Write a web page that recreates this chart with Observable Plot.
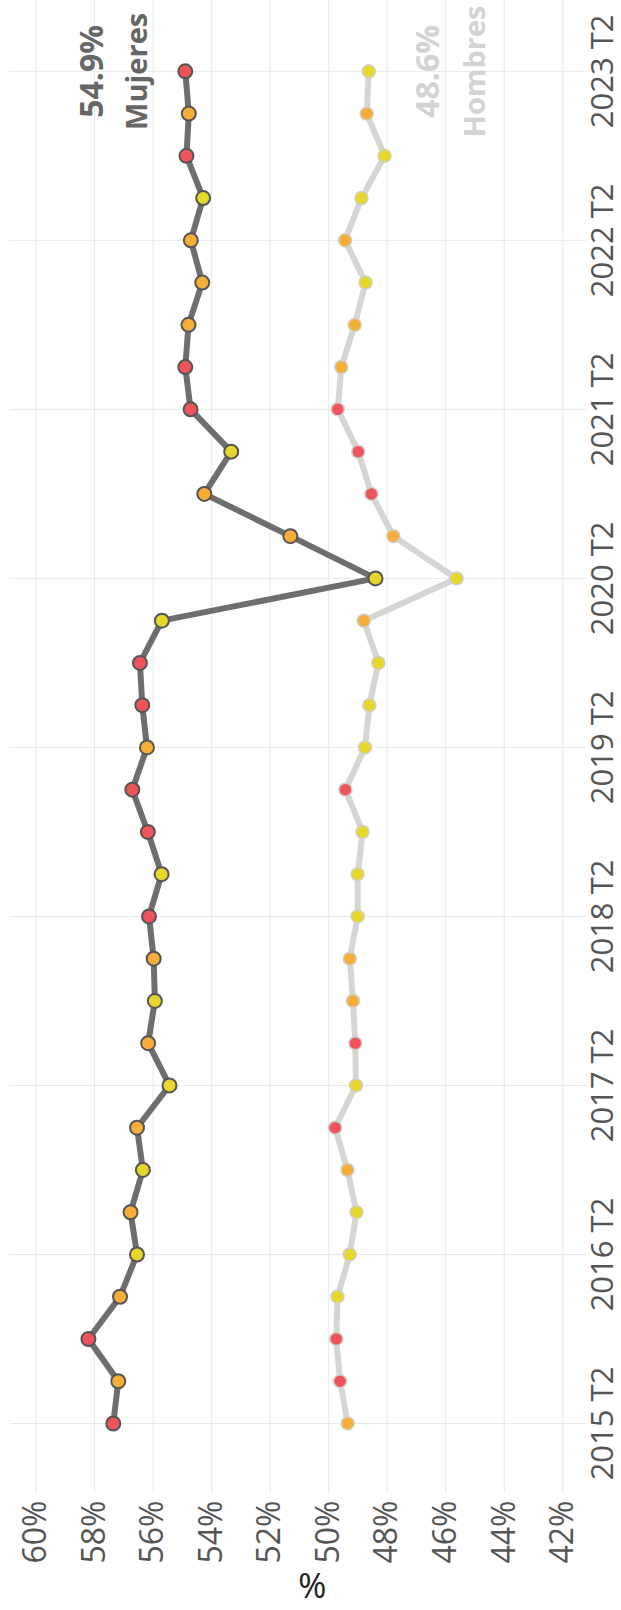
<!DOCTYPE html>
<html>
<head>
<meta charset="utf-8">
<script src="https://cdn.jsdelivr.net/npm/d3@7"></script>
<script src="https://cdn.jsdelivr.net/npm/@observablehq/plot@0.6"></script>
<style>
  html, body { margin: 0; padding: 0; background: #fff; }
  #wrap { position: relative; width: 621px; height: 1610px; overflow: hidden; background: #fff; }
</style>
</head>
<body>
<div id="wrap"></div>
<script>
const periodos = [
  "2015 T2","2015 T3","2015 T4",
  "2016 T1","2016 T2","2016 T3","2016 T4",
  "2017 T1","2017 T2","2017 T3","2017 T4",
  "2018 T1","2018 T2","2018 T3","2018 T4",
  "2019 T1","2019 T2","2019 T3","2019 T4",
  "2020 T1","2020 T2","2020 T3","2020 T4",
  "2021 T1","2021 T2","2021 T3","2021 T4",
  "2022 T1","2022 T2","2022 T3","2022 T4",
  "2023 T1","2023 T2"
];
const mujeres = [
  57.36, 57.19, 58.21,
  57.13, 56.55, 56.77, 56.35,
  56.55, 55.44, 56.17, 55.94,
  55.98, 56.14, 55.71, 56.18,
  56.71, 56.21, 56.37, 56.45,
  55.70, 48.40, 51.31, 54.25,
  53.33, 54.72, 54.90, 54.79,
  54.32, 54.71, 54.29, 54.86,
  54.78, 54.90
];
const hombres = [
  49.35, 49.61, 49.74,
  49.70, 49.28, 49.05, 49.36,
  49.78, 49.07, 49.09, 49.17,
  49.28, 49.01, 49.01, 48.84,
  49.43, 48.76, 48.61, 48.30,
  48.80, 45.63, 47.79, 48.54,
  48.99, 49.69, 49.57, 49.11,
  48.74, 49.44, 48.88, 48.09,
  48.70, 48.63
];
const coloresMujeres = [
  "rojo","naranja","rojo",
  "naranja","amarillo","naranja","amarillo",
  "naranja","amarillo","naranja","amarillo",
  "naranja","rojo","amarillo","rojo",
  "rojo","naranja","rojo","rojo",
  "amarillo","amarillo","naranja","naranja",
  "amarillo","rojo","rojo","naranja",
  "naranja","naranja","amarillo","rojo",
  "naranja","rojo"
];
const coloresHombres = [
  "naranja","rojo","rojo",
  "amarillo","amarillo","amarillo","naranja",
  "rojo","amarillo","rojo","naranja",
  "naranja","amarillo","amarillo","amarillo",
  "rojo","amarillo","amarillo","amarillo",
  "naranja","amarillo","naranja","rojo",
  "rojo","rojo","naranja","naranja",
  "amarillo","naranja","amarillo","amarillo",
  "naranja","amarillo"
];
const categorias = ["rojo","naranja","amarillo"];
const coloresCategorias = ["#ee545a","#f6ae38","#e6d72a"];
const ticksPeriodo = ["2015 T2","2016 T2","2017 T2","2018 T2","2019 T2","2020 T2","2021 T2","2022 T2","2023 T2"];
const ticksPct = [42,44,46,48,50,52,54,56,58,60];
const series = ["Mujeres","Hombres"];

const rowsM = periodos.map((p, i) => ({i, p, v: mujeres[i], c: coloresMujeres[i]}));
const rowsH = periodos.map((p, i) => ({i, p, v: hombres[i], c: coloresHombres[i]}));
const tickIdx = ticksPeriodo.map(t => periodos.indexOf(t));
const lastM = rowsM[rowsM.length - 1];
const lastH = rowsH[rowsH.length - 1];

const font = "'Open Sans', 'Noto Sans', sans-serif";

const svg = Plot.plot({
  width: 1610,
  height: 621,
  marginLeft: 117,
  marginRight: 0,
  marginTop: 9.5,
  marginBottom: 35,
  style: {fontFamily: font, background: "#fff"},
  x: {type: "linear", domain: [-1.633, 33.70], axis: null},
  y: {domain: [41.19, 60.89], axis: null},
  color: {domain: categorias, range: coloresCategorias},
  marks: [
    Plot.ruleX(tickIdx, {stroke: "#e9e9e9", strokeWidth: 1}),
    Plot.ruleY(ticksPct, {stroke: "#e9e9e9", strokeWidth: 1}),
    Plot.axisX({ticks: tickIdx, tickFormat: i => periodos[i], tickSize: 0, tickPadding: 4, fontSize: 31, fill: "#555", label: null}),
    Plot.axisY({ticks: ticksPct, tickFormat: d => d + "%", tickSize: 0, tickPadding: 8, fontSize: 32, fill: "#555", label: null}),
    Plot.text(["%"], {frameAnchor: "left", dx: -95, rotate: 90, fontSize: 34, fill: "#222"}),
    Plot.line(rowsH, {x: "i", y: "v", stroke: "#d6d6d1", strokeWidth: 6}),
    Plot.dot(rowsH, {x: "i", y: "v", r: 6.5, fill: "c", stroke: "#cfcfcf", strokeWidth: 1.5}),
    Plot.line(rowsM, {x: "i", y: "v", stroke: "#6e6e6e", strokeWidth: 6}),
    Plot.dot(rowsM, {x: "i", y: "v", r: 7, fill: "c", stroke: "#555", strokeWidth: 2}),
    Plot.text([lastM], {x: "i", y: "v", text: d => d.v.toFixed(1) + "%", dy: -93, fontSize: 32, fontWeight: "bold", fill: "#666"}),
    Plot.text([lastM], {x: "i", y: "v", text: () => series[0], dy: -48, fontSize: 29, fontWeight: "bold", fill: "#666"}),
    Plot.text([lastH], {x: "i", y: "v", text: d => d.v.toFixed(1) + "%", dy: 60, fontSize: 32, fontWeight: "bold", fill: "#d3d3d3"}),
    Plot.text([lastH], {x: "i", y: "v", text: () => series[1], dy: 107, fontSize: 29, fontWeight: "bold", fill: "#d3d3d3"})
  ]
});

svg.style.position = "absolute";
svg.style.left = "0px";
svg.style.top = "0px";
svg.style.maxWidth = "none";
svg.style.width = "1610px";
svg.style.height = "621px";
svg.style.transformOrigin = "0 0";
svg.style.transform = "translate(0px, 1610px) rotate(-90deg)";
document.getElementById("wrap").appendChild(svg);
</script>
</body>
</html>
